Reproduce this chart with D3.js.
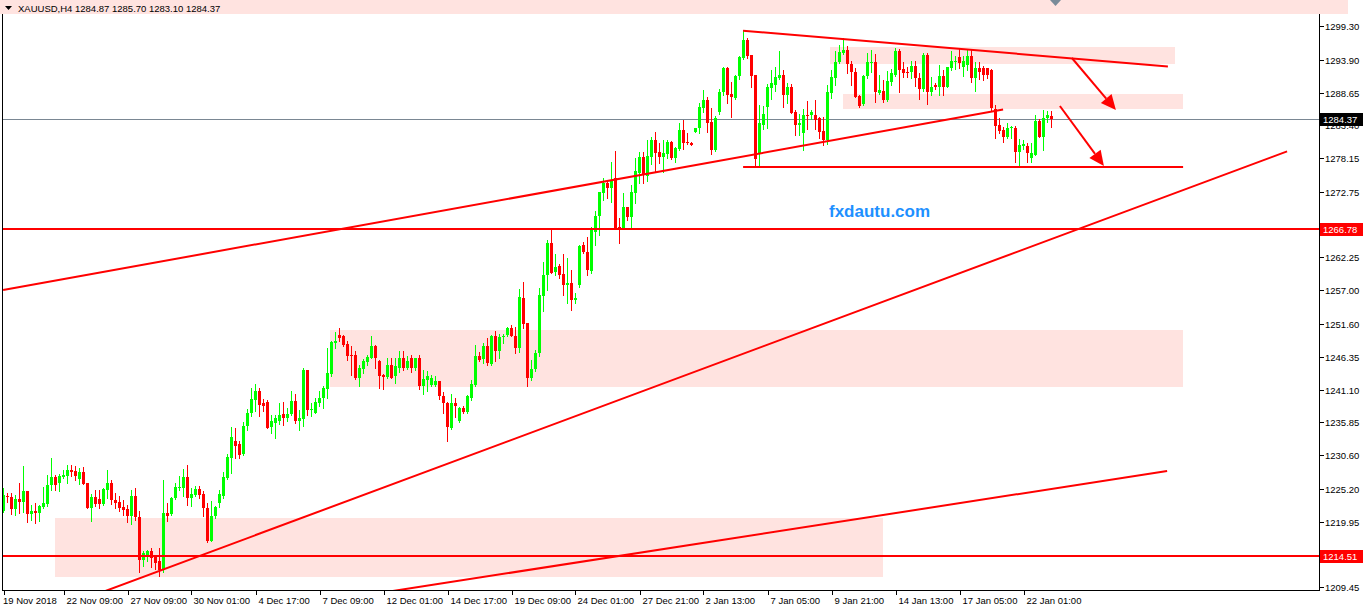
<!DOCTYPE html>
<html><head><meta charset="utf-8">
<script src="https://cdn.jsdelivr.net/npm/d3@7"></script>
<style>html,body{margin:0;padding:0;background:#fff;overflow:hidden}svg{display:block}text{font-family:"Liberation Sans",Arial,sans-serif}</style>
</head><body>
<script>
// ---- data (XAUUSD H4) ----
const opens = [1221.6,1224.0,1223.9,1222.0,1223.6,1223.1,1224.9,1221.2,1221.7,1221.3,1222.3,1222.8,1225.8,1227.1,1226.1,1227.1,1227.2,1228.2,1228.0,1226.8,
1227.9,1226.1,1222.2,1223.9,1223.6,1222.8,1225.1,1226.2,1223.4,1223.1,1222.3,1222.0,1220.8,1224.1,1220.7,1213.9,1214.6,1215.3,1214.3,1213.6,
1212.2,1221.3,1221.2,1223.8,1225.3,1225.4,1227.1,1223.7,1224.3,1225.2,1224.4,1222.1,1216.9,1220.8,1223.0,1224.1,1227.0,1230.1,1232.9,1232.4,
1230.8,1235.2,1237.3,1239.4,1240.9,1238.9,1239.1,1235.1,1235.8,1236.1,1237.2,1236.6,1237.2,1239.3,1236.0,1236.4,1244.2,1237.8,1237.4,1239.0,
1239.7,1241.2,1243.6,1248.6,1249.9,1249.6,1248.4,1246.7,1246.7,1242.9,1244.4,1245.5,1246.2,1248.0,1245.6,1243.4,1243.1,1245.1,1243.2,1244.6,
1246.1,1244.6,1246.1,1244.5,1246.1,1241.6,1242.7,1241.8,1241.9,1242.4,1240.1,1239.0,1235.0,1239.0,1236.0,1238.1,1237.5,1239.8,1241.9,1246.4,
1246.0,1248.1,1245.2,1249.6,1247.3,1249.5,1249.8,1251.0,1249.7,1247.8,1255.8,1251.7,1243.0,1244.4,1247.0,1256.1,1259.5,1264.6,1260.0,1260.9,
1259.6,1257.9,1258.2,1255.4,1257.9,1264.2,1263.1,1260.1,1266.3,1268.9,1272.6,1274.2,1273.3,1274.9,1267.2,1267.0,1270.3,1268.8,1272.6,1275.8,
1278.4,1275.3,1278.4,1281.0,1279.1,1278.4,1278.8,1280.7,1278.2,1279.6,1282.6,1280.8,1280.6,1282.4,1282.9,1286.1,1287.5,1283.9,1279.5,1285.6,
1288.7,1292.5,1288.4,1287.7,1291.3,1294.1,1297.1,1294.6,1291.5,1278.8,1283.5,1286.3,1289.3,1289.8,1291.0,1291.5,1288.2,1289.6,1285.5,1283.4,
1282.1,1285.1,1285.0,1285.1,1284.5,1282.5,1281.0,1288.5,1290.9,1293.5,1294.9,1295.5,1293.2,1292.0,1288.1,1286.8,1291.3,1293.4,1293.5,1288.5,
1288.9,1287.5,1290.4,1291.5,1295.3,1292.4,1292.0,1292.0,1292.9,1291.0,1289.2,1294.6,1288.8,1289.8,1289.6,1291.3,1289.6,1292.6,1293.5,1294.3,
1292.8,1293.0,1294.5,1290.9,1292.5,1292.5,1292.5,1292.3,1286.0,1283.5,1282.7,1281.6,1282.9,1283.0,1279.1,1280.1,1280.1,1278.2,1278.7,1284.1,
1281.6,1284.5,1284.87];
const highs = [1225.3,1224.6,1224.5,1224.3,1226.1,1228.9,1224.9,1222.6,1223.0,1222.6,1225.5,1227.5,1230.1,1227.5,1227.6,1228.3,1229.1,1229.1,1228.8,1228.5,
1228.7,1226.2,1224.4,1225.0,1225.0,1225.3,1228.2,1226.6,1224.5,1224.0,1223.4,1222.7,1225.1,1225.4,1221.6,1215.2,1215.4,1215.7,1214.6,1215.7,
1226.6,1222.9,1223.9,1226.2,1227.3,1228.4,1229.1,1225.4,1225.7,1225.7,1224.9,1223.0,1223.3,1222.4,1225.0,1227.9,1230.8,1235.1,1235.0,1232.9,
1235.9,1238.0,1241.3,1242.0,1241.4,1239.6,1239.5,1237.1,1237.0,1238.9,1239.1,1238.2,1240.8,1240.4,1237.8,1244.5,1244.2,1239.0,1239.7,1240.8,
1241.6,1247.8,1248.8,1250.3,1251.0,1249.8,1248.8,1248.0,1247.3,1245.0,1246.0,1246.7,1249.7,1248.3,1245.8,1243.6,1246.2,1246.1,1246.2,1247.2,
1247.3,1246.4,1246.6,1246.2,1246.7,1244.3,1244.0,1243.4,1243.2,1242.4,1240.7,1239.1,1240.4,1239.7,1238.3,1238.4,1240.3,1242.7,1248.2,1247.1,
1248.6,1249.3,1249.8,1250.5,1250.0,1250.0,1251.1,1251.5,1251.1,1257.2,1258.3,1251.7,1245.9,1247.5,1257.3,1261.5,1265.0,1267.0,1262.8,1261.2,
1262.8,1262.2,1260.2,1256.6,1264.3,1264.7,1265.6,1267.2,1269.7,1272.8,1274.9,1274.6,1277.5,1279.3,1268.6,1272.5,1270.4,1273.9,1278.2,1279.2,
1279.2,1281.0,1281.6,1282.3,1280.6,1281.1,1281.1,1280.9,1280.0,1283.7,1284.2,1282.2,1280.7,1283.0,1286.9,1289.1,1288.0,1286.2,1284.9,1289.2,
1292.7,1292.8,1290.4,1291.4,1294.5,1298.6,1297.3,1294.7,1291.5,1286.6,1286.5,1290.0,1292.2,1292.7,1295.3,1292.2,1290.1,1290.0,1285.8,1285.2,
1286.0,1287.3,1285.8,1287.4,1284.7,1284.8,1289.9,1292.2,1295.3,1296.3,1297.3,1296.1,1293.7,1292.5,1288.3,1291.5,1294.9,1295.5,1294.8,1291.4,
1290.7,1292.1,1292.4,1295.8,1295.6,1293.5,1292.7,1293.7,1293.7,1291.8,1294.9,1295.0,1291.2,1290.2,1293.0,1292.2,1292.7,1295.3,1294.5,1295.7,
1294.5,1295.6,1295.4,1293.5,1293.5,1292.9,1292.6,1292.4,1286.7,1284.5,1283.1,1283.7,1283.3,1283.3,1281.2,1281.1,1280.6,1280.6,1285.0,1284.4,
1285.8,1285.7,1285.70];
const lows = [1221.5,1223.1,1221.2,1221.1,1221.4,1221.5,1219.9,1220.2,1219.7,1220.0,1222.2,1222.4,1225.1,1225.1,1224.9,1226.9,1226.2,1227.3,1226.7,1226.0,
1226.0,1222.1,1220.0,1222.4,1222.2,1222.7,1223.7,1222.8,1222.2,1221.7,1221.1,1219.9,1219.6,1220.3,1211.9,1212.9,1213.7,1212.7,1212.4,1211.2,
1211.9,1220.0,1221.0,1223.6,1225.1,1224.0,1222.6,1222.4,1224.1,1223.8,1220.8,1216.7,1216.8,1220.5,1222.3,1223.7,1226.8,1227.7,1230.1,1230.1,
1230.6,1234.6,1236.8,1237.6,1236.8,1237.6,1234.9,1234.2,1233.3,1235.6,1235.5,1236.1,1237.1,1235.7,1234.6,1235.3,1237.1,1236.8,1237.3,1238.4,
1238.1,1239.7,1243.2,1247.8,1248.8,1248.0,1245.9,1243.4,1242.8,1241.6,1243.7,1245.1,1246.1,1244.6,1241.4,1241.2,1242.9,1242.9,1242.1,1243.9,
1244.2,1244.4,1243.9,1244.3,1241.2,1240.4,1240.8,1241.6,1241.6,1239.6,1237.4,1232.9,1234.8,1236.7,1235.9,1237.4,1237.3,1239.4,1241.6,1245.6,
1245.3,1245.0,1245.0,1245.7,1246.2,1248.5,1249.7,1249.6,1246.9,1247.1,1250.9,1241.7,1242.7,1244.0,1246.5,1253.6,1257.0,1259.7,1259.5,1258.9,
1256.2,1254.9,1253.9,1254.9,1257.6,1262.9,1259.4,1259.8,1264.3,1265.9,1271.5,1271.7,1271.2,1267.0,1264.6,1266.8,1268.2,1267.0,1270.9,1274.2,
1274.2,1274.5,1277.2,1276.0,1277.3,1275.9,1278.2,1278.0,1277.5,1279.5,1279.6,1280.4,1280.2,1282.3,1282.2,1285.6,1282.3,1278.8,1279.3,1285.2,
1288.2,1287.0,1284.8,1287.6,1290.8,1294.0,1294.1,1289.6,1276.8,1276.8,1282.8,1282.9,1287.6,1288.9,1290.8,1286.3,1287.0,1285.3,1281.9,1281.8,
1279.5,1282.8,1284.4,1282.8,1281.3,1280.3,1280.4,1287.8,1289.9,1293.3,1294.8,1291.7,1289.9,1287.9,1286.3,1286.7,1291.0,1292.0,1287.2,1288.4,
1287.2,1287.3,1289.8,1291.3,1288.7,1291.1,1291.2,1290.9,1289.7,1287.6,1288.9,1286.8,1288.3,1289.2,1288.3,1288.3,1289.6,1292.2,1292.4,1292.5,
1291.3,1292.2,1290.3,1288.9,1290.8,1290.7,1291.0,1285.8,1281.3,1282.1,1280.7,1281.3,1281.3,1277.6,1277.0,1279.6,1277.5,1277.5,1278.6,1281.6,
1279.5,1284.0,1283.10];
const closes = [1224.2,1223.9,1222.0,1223.6,1223.1,1224.9,1221.2,1221.6,1221.3,1222.4,1222.9,1225.9,1227.1,1225.8,1227.2,1227.4,1228.2,1227.9,1227.2,1227.9,
1226.0,1222.2,1223.9,1222.8,1222.8,1225.2,1226.2,1223.4,1222.9,1222.2,1221.9,1220.8,1224.0,1220.7,1213.9,1215.0,1215.3,1214.2,1213.4,1212.2,
1221.3,1220.9,1223.7,1225.5,1225.5,1227.1,1223.7,1224.4,1225.2,1224.2,1222.1,1216.9,1220.8,1222.3,1224.4,1227.1,1230.3,1233.5,1232.1,1230.6,
1235.2,1237.4,1239.6,1240.9,1238.7,1238.4,1235.0,1236.0,1236.5,1237.1,1236.6,1237.2,1239.3,1236.0,1236.5,1244.2,1237.8,1238.0,1239.1,1239.8,
1241.3,1243.8,1248.7,1248.8,1249.4,1248.3,1246.5,1246.5,1242.9,1244.5,1245.6,1246.3,1248.0,1246.2,1243.2,1243.1,1245.1,1243.0,1244.8,1246.1,
1244.6,1245.6,1244.5,1246.1,1241.6,1242.8,1243.2,1242.9,1242.4,1240.0,1238.9,1235.1,1239.0,1238.4,1238.1,1237.5,1240.0,1242.0,1246.4,1245.9,
1248.1,1245.3,1249.7,1247.3,1249.5,1249.7,1251.0,1249.7,1247.8,1255.9,1251.6,1243.0,1244.4,1247.0,1256.2,1259.5,1264.6,1259.8,1260.8,1259.5,
1257.9,1258.2,1255.4,1255.7,1264.1,1263.2,1260.2,1266.6,1268.9,1272.7,1274.2,1273.3,1274.5,1267.0,1267.0,1270.3,1268.8,1272.7,1276.1,1278.4,
1275.4,1278.5,1281.0,1279.0,1278.4,1278.9,1280.8,1278.2,1279.7,1282.6,1280.6,1280.5,1280.3,1282.9,1286.3,1287.5,1283.8,1279.4,1284.6,1288.8,
1292.5,1288.3,1288.0,1291.3,1294.4,1297.1,1294.5,1291.3,1278.0,1283.7,1285.2,1289.5,1290.1,1291.2,1291.4,1288.2,1289.6,1285.3,1283.5,1283.7,
1285.1,1285.0,1285.5,1284.3,1282.3,1281.0,1288.7,1291.1,1293.5,1295.1,1295.5,1293.2,1292.0,1288.0,1286.5,1291.3,1293.5,1293.5,1288.7,1289.0,
1287.5,1290.5,1291.7,1295.3,1292.3,1291.8,1291.7,1292.9,1290.9,1289.2,1294.6,1288.8,1289.6,1289.5,1291.3,1289.6,1292.7,1293.7,1293.7,1293.3,
1293.7,1294.5,1291.0,1292.5,1291.9,1291.4,1291.5,1286.1,1283.3,1282.5,1281.5,1282.9,1283.1,1279.1,1280.2,1280.4,1278.9,1278.9,1284.1,1281.6,
1284.6,1285.1,1284.37];

// axes
const priceTicks = [1299.30,1293.90,1288.65,1283.40,1278.15,1272.75,1267.50,1262.25,1257.00,1251.60,1246.35,1241.10,1235.85,1230.60,1225.20,1219.95,1214.70,1209.45];
const timeLabels = ["19 Nov 2018","22 Nov 09:00","27 Nov 09:00","30 Nov 01:00","4 Dec 17:00","7 Dec 09:00","12 Dec 01:00","14 Dec 17:00","19 Dec 09:00","24 Dec 01:00","27 Dec 21:00","2 Jan 13:00","7 Jan 05:00","9 Jan 21:00","14 Jan 13:00","17 Jan 05:00","22 Jan 01:00"];
const timeLabelBars = [0,15,31,47,63,79,95,111,127,143,159,175,191,207,223,239,255];

// drawn objects (bar index, price)
const zones = [ // [bar1, bar2, priceTop, priceBottom]
  [12.9, 219.9, 1220.54, 1211.10],
  [81.6, 294.9, 1250.64, 1241.51],
  [206.6, 292.9, 1295.94, 1293.22],
  [209.9, 294.9, 1288.41, 1286.01]
];
const trendLines = [ // [bar1, price1, bar2, price2]
  [-0.1, 1257.04, 249.9, 1285.93],
  [184.9, 1276.73, 294.9, 1276.73],
  [184.9, 1298.55, 291.1, 1292.82],
  [21.6, 1207.94, 320.9, 1279.23],
  [94.1, 1208.54, 290.9, 1228.07]
];
const hLevels = [1266.78, 1214.51];
const arrows = [ // [bar1, price1, bar2, price2]
  [267.1, 1294.18, 278.1, 1285.85],
  [264.1, 1286.49, 275.1, 1276.89]
];
const bid = 1284.37;
const header = "XAUUSD,H4  1284.87 1285.70 1283.10 1284.37";
const watermark = "fxdautu.com";

// ---- layout ----
const W = 1363, H = 607;
const L = 2, R = 1319, T = 14, B = 590;
const svg = d3.select("body").append("svg").attr("width", W).attr("height", H);
const x = d3.scaleLinear().domain([0, 262]).range([3.5, 1051.5]);
const y = d3.scaleLinear().domain([1209.45, 1299.30]).range([587.3, 26]);
const ry = v => Math.round(y(v));

svg.append("rect").attr("width", W).attr("height", H).attr("fill", "#fff");
svg.append("clipPath").attr("id", "plot").append("rect").attr("x", L).attr("y", T).attr("width", R - L).attr("height", B - T);
const plot = svg.append("g").attr("clip-path", "url(#plot)");

// zones
plot.selectAll("rect.zone").data(zones).join("rect").attr("class", "zone")
  .attr("x", d => Math.round(x(d[0]))).attr("width", d => Math.round(x(d[1])) - Math.round(x(d[0])))
  .attr("y", d => ry(d[2])).attr("height", d => ry(d[3]) - ry(d[2]))
  .attr("fill", "#ffe3e0");

// bid line
plot.append("line").attr("x1", L).attr("x2", R).attr("y1", ry(bid) + 0.5).attr("y2", ry(bid) + 0.5)
  .attr("stroke", "#7a8793").attr("stroke-width", 1);

// candles
const idx = d3.range(opens.length);
const col = i => closes[i] >= opens[i] ? "#00ff00" : "#ff0000";
plot.selectAll("line.wick").data(idx).join("line").attr("class", "wick")
  .attr("x1", i => x(i)).attr("x2", i => x(i))
  .attr("y1", i => ry(highs[i])).attr("y2", i => ry(lows[i]) + 1)
  .attr("stroke", col).attr("stroke-width", 1);
plot.selectAll("rect.body").data(idx).join("rect").attr("class", "body")
  .attr("x", i => x(i) - 1.5).attr("width", 3)
  .attr("y", i => ry(Math.max(opens[i], closes[i])))
  .attr("height", i => Math.max(1, ry(Math.min(opens[i], closes[i])) - ry(Math.max(opens[i], closes[i]))))
  .attr("fill", col);

// horizontal levels
plot.selectAll("line.lvl").data(hLevels).join("line").attr("class", "lvl")
  .attr("x1", L).attr("x2", R).attr("y1", d => ry(d)).attr("y2", d => ry(d))
  .attr("stroke", "#ff0000").attr("stroke-width", 2);

// trend lines
plot.selectAll("line.tl").data(trendLines).join("line").attr("class", "tl")
  .attr("x1", d => x(d[0])).attr("y1", d => y(d[1])).attr("x2", d => x(d[2])).attr("y2", d => y(d[3]))
  .attr("stroke", "#ff0000").attr("stroke-width", 2);

// arrows
arrows.forEach(a => {
  const x1 = x(a[0]), y1 = y(a[1]), x2 = x(a[2]), y2 = y(a[3]);
  const ang = Math.atan2(y2 - y1, x2 - x1), len = 15, w = 7;
  const bx = x2 - len * Math.cos(ang), by = y2 - len * Math.sin(ang);
  plot.append("line").attr("x1", x1).attr("y1", y1).attr("x2", bx).attr("y2", by)
    .attr("stroke", "#ff0000").attr("stroke-width", 2);
  plot.append("path").attr("d", `M${x2},${y2}L${bx + w * Math.sin(ang)},${by - w * Math.cos(ang)}L${bx - w * Math.sin(ang)},${by + w * Math.cos(ang)}Z`)
    .attr("fill", "#ff0000");
});

// watermark
svg.append("text").attr("x", 829).attr("y", 217).attr("font-size", 17).attr("font-weight", "bold")
  .attr("fill", "#1e90ff").text(watermark);

// header band
svg.append("rect").attr("x", 0).attr("y", 0).attr("width", 1348).attr("height", T).attr("fill", "#ffe3e0");
svg.append("path").attr("d", "M5,6L12,6L8.5,10Z").attr("fill", "#000");
svg.append("text").attr("x", 18).attr("y", 12).attr("font-size", 9.5).attr("fill", "#000").text(header);
svg.append("path").attr("d", "M1050,0L1061,0L1055.5,6Z").attr("fill", "#7a8b99");

// frame
svg.append("line").attr("x1", L + 0.5).attr("x2", L + 0.5).attr("y1", T).attr("y2", B + 1).attr("stroke", "#000");
svg.append("line").attr("x1", L).attr("x2", R + 1).attr("y1", B + 0.5).attr("y2", B + 0.5).attr("stroke", "#000");
svg.append("line").attr("x1", R + 0.5).attr("x2", R + 0.5).attr("y1", T).attr("y2", B + 1).attr("stroke", "#000");

// price axis
const yAxis = svg.append("g");
priceTicks.forEach(p => {
  yAxis.append("line").attr("x1", R + 1).attr("x2", R + 5).attr("y1", ry(p) + 0.5).attr("y2", ry(p) + 0.5).attr("stroke", "#000");
  yAxis.append("text").attr("x", R + 6).attr("y", ry(p) + 3.5).attr("font-size", 9.5).attr("fill", "#000").text(p.toFixed(2));
});
function tag(p, bg) {
  const yy = ry(p);
  yAxis.append("rect").attr("x", R + 1).attr("y", yy - 6).attr("width", 43).attr("height", 13).attr("fill", bg);
  yAxis.append("text").attr("x", R + 4).attr("y", yy + 4).attr("font-size", 9.5).attr("fill", "#fff").text(p.toFixed(2));
}
hLevels.forEach(p => tag(p, "#ff0000"));
tag(bid, "#000");

// time axis
timeLabelBars.forEach((b, k) => {
  const xx = Math.round(x(b)) + 0.5;
  svg.append("line").attr("x1", xx).attr("x2", xx).attr("y1", B + 1).attr("y2", B + 5).attr("stroke", "#000");
  svg.append("text").attr("x", k === 0 ? 3 : xx + 2).attr("y", H - 3).attr("font-size", 9.5).attr("fill", "#000").text(timeLabels[k]);
});
</script>
</body></html>
